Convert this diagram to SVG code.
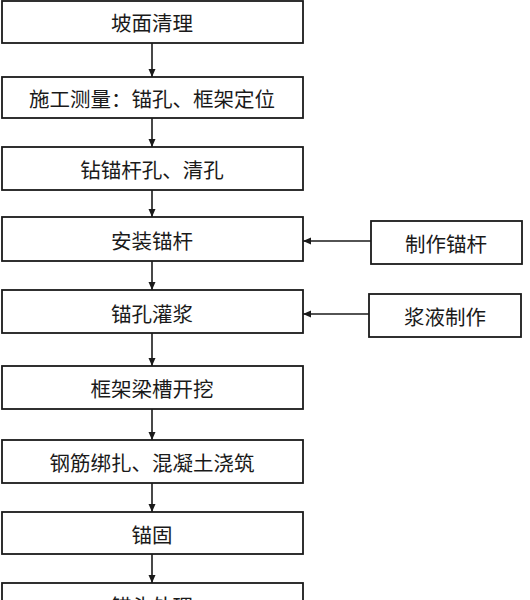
<svg xmlns="http://www.w3.org/2000/svg" width="530" height="600" viewBox="0 0 530 600">
<defs>
<marker id="ah" markerWidth="8" markerHeight="8" refX="8" refY="4" orient="auto" markerUnits="userSpaceOnUse">
<path d="M0,0.5 L8,4 L0,7.5 Z" fill="#1a1a1a"/>
</marker>
</defs>
<style>
.box{fill:#fff;stroke:#1a1a1a;stroke-width:1.8}
.t{font-family:"Noto Sans CJK SC","Noto Sans",sans-serif;font-size:20.5px;fill:#1a1a1a;text-anchor:middle}
.c{stroke:#1a1a1a;stroke-width:1.6;fill:none;marker-end:url(#ah)}
</style>
<rect width="530" height="600" fill="#fff"/>
<g id="connectors">
<line class="c" x1="152" y1="43" x2="152" y2="77"/>
<line class="c" x1="152" y1="118" x2="152" y2="147"/>
<line class="c" x1="152" y1="190" x2="152" y2="217"/>
<line class="c" x1="152" y1="261" x2="152" y2="290"/>
<line class="c" x1="152" y1="333" x2="152" y2="366"/>
<line class="c" x1="152" y1="409" x2="152" y2="440"/>
<line class="c" x1="152" y1="483" x2="152" y2="512"/>
<line class="c" x1="152" y1="554" x2="152" y2="583"/>
<line class="c" x1="371" y1="241" x2="303" y2="241"/>
<line class="c" x1="369" y1="314" x2="303" y2="314"/>
</g>
<g id="n1"><rect class="box" x="2" y="1" width="301" height="42"/><text class="t" x="152" y="31">坡面清理</text></g>
<g id="n2"><rect class="box" x="2" y="77" width="301" height="41"/><text class="t" x="152" y="107">施工测量：锚孔、框架定位</text></g>
<g id="n3"><rect class="box" x="2" y="147" width="301" height="43"/><text class="t" x="152" y="178">钻锚杆孔、清孔</text></g>
<g id="n4"><rect class="box" x="2" y="217" width="301" height="44"/><text class="t" x="152" y="249">安装锚杆</text></g>
<g id="n5"><rect class="box" x="2" y="290" width="301" height="43"/><text class="t" x="152" y="322">锚孔灌浆</text></g>
<g id="n6"><rect class="box" x="2" y="366" width="301" height="43"/><text class="t" x="152" y="397">框架梁槽开挖</text></g>
<g id="n7"><rect class="box" x="2" y="440" width="301" height="43"/><text class="t" x="152" y="471">钢筋绑扎、混凝土浇筑</text></g>
<g id="n8"><rect class="box" x="2" y="512" width="301" height="42"/><text class="t" x="152" y="543">锚固</text></g>
<g id="n9"><rect class="box" x="2" y="583" width="301" height="42"/><text class="t" x="152" y="614">锚头处理</text></g>
<g id="n10"><rect class="box" x="371" y="221" width="151" height="43"/><text class="t" x="446" y="252">制作锚杆</text></g>
<g id="n11"><rect class="box" x="369" y="294" width="152" height="43"/><text class="t" x="445" y="325">浆液制作</text></g>
</svg>
